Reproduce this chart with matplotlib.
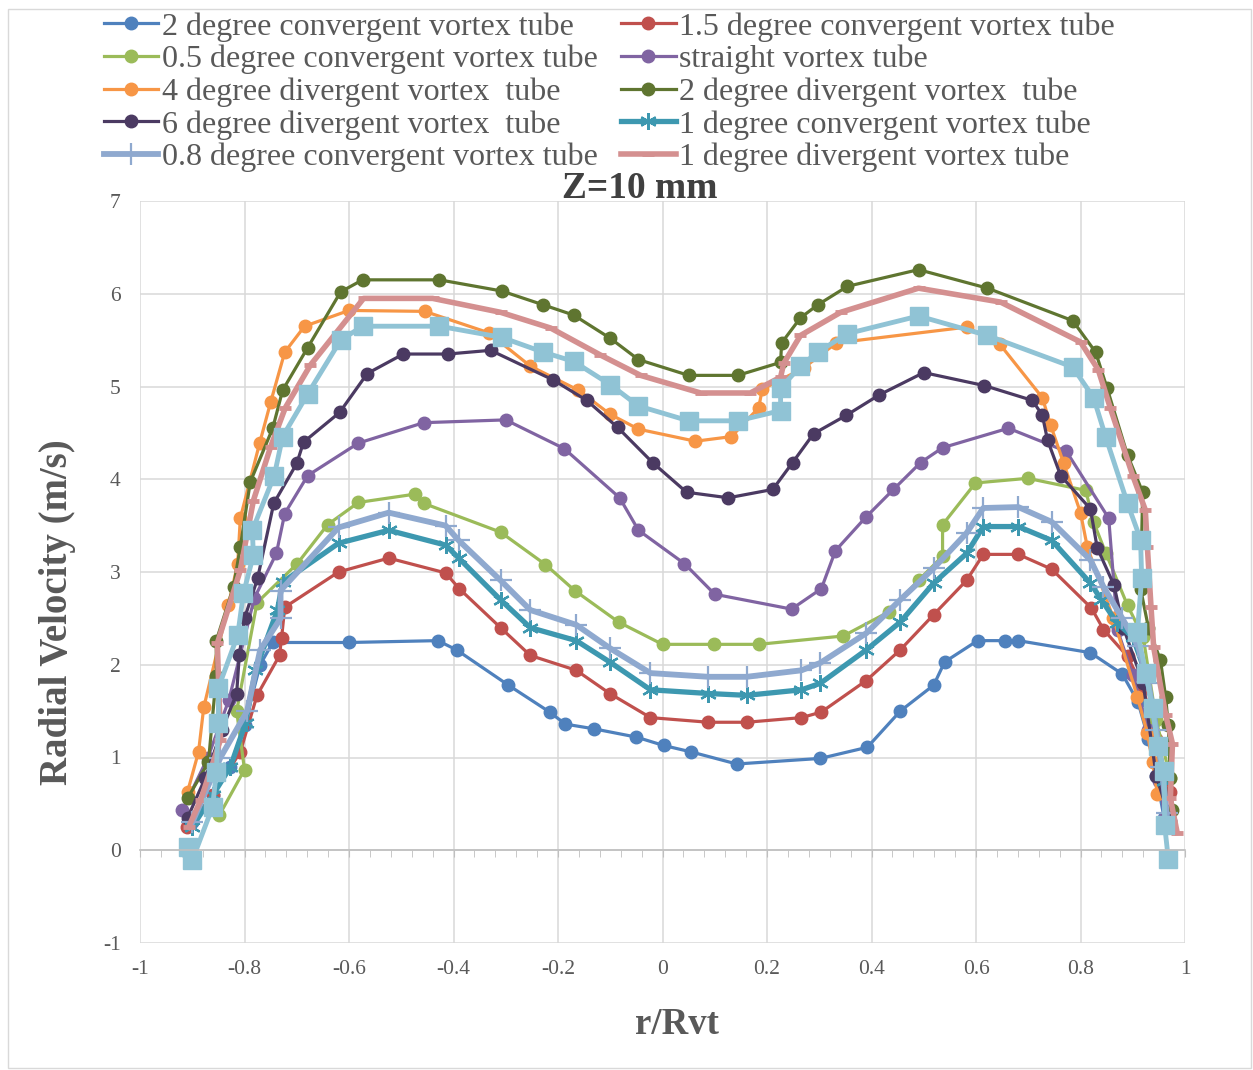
import matplotlib
matplotlib.use('Agg')
import matplotlib.pyplot as plt
from matplotlib.patches import Rectangle
from matplotlib.ticker import MultipleLocator

plt.rcParams['font.family'] = ['Liberation Serif', 'DejaVu Serif']

# ---- data (r/Rvt, radial velocity m/s) ----
x_2conv = [-0.9, -0.86, -0.827, -0.8, -0.77, -0.746, -0.6, -0.43, -0.394, -0.295, -0.216, -0.186, -0.132, -0.05,
           0.002, 0.055, 0.142, 0.302, 0.392, 0.455, 0.519, 0.54, 0.603, 0.655, 0.681, 0.819, 0.88, 0.91, 0.93,
           0.945, 0.96]
y_2conv = [0.3, 0.6, 0.9, 1.35, 2.0, 2.24, 2.24, 2.26, 2.16, 1.78, 1.49, 1.36, 1.31, 1.22,
           1.13, 1.06, 0.93, 0.99, 1.11, 1.5, 1.78, 2.03, 2.26, 2.26, 2.26, 2.13, 1.9, 1.6, 1.2,
           0.8, 0.35]

x_15conv = [-0.91, -0.86, -0.808, -0.776, -0.733, -0.729, -0.723, -0.62, -0.524, -0.415, -0.389, -0.31, -0.253,
            -0.165, -0.101, -0.023, 0.088, 0.161, 0.266, 0.304, 0.39, 0.455, 0.519, 0.582, 0.614, 0.681, 0.745,
            0.821, 0.844, 0.89, 0.92, 0.945, 0.972]
y_15conv = [0.25, 0.6, 1.06, 1.67, 2.1, 2.29, 2.62, 3.0, 3.15, 2.99, 2.82, 2.4, 2.1,
            1.94, 1.69, 1.43, 1.38, 1.38, 1.43, 1.49, 1.83, 2.16, 2.54, 2.91, 3.19, 3.19, 3.03,
            2.61, 2.38, 2.09, 1.75, 1.2, 0.63]

x_05conv = [-0.848, -0.8, -0.815, -0.776, -0.699, -0.641, -0.582, -0.473, -0.457, -0.31, -0.224, -0.168, -0.084,
            0.0, 0.098, 0.184, 0.346, 0.433, 0.49, 0.536, 0.536, 0.599, 0.699, 0.81, 0.825, 0.848, 0.89, 0.92,
            0.945, 0.972]
y_05conv = [0.38, 0.87, 1.5, 2.67, 3.09, 3.51, 3.75, 3.84, 3.74, 3.43, 3.08, 2.8, 2.46,
            2.22, 2.22, 2.22, 2.31, 2.57, 2.91, 3.17, 3.51, 3.96, 4.01, 3.88, 3.54, 3.21, 2.64, 2.3,
            1.4, 0.78]

x_straight = [-0.919, -0.87, -0.83, -0.781, -0.739, -0.723, -0.679, -0.582, -0.457, -0.3, -0.188, -0.082, -0.046,
              0.042, 0.1, 0.247, 0.304, 0.331, 0.389, 0.442, 0.494, 0.536, 0.662, 0.773, 0.854, 0.871, 0.9,
              0.93, 0.95, 0.962]
y_straight = [0.43, 1.0, 1.62, 2.72, 3.2, 3.63, 4.04, 4.39, 4.61, 4.64, 4.33, 3.8, 3.45,
              3.09, 2.76, 2.6, 2.82, 3.23, 3.59, 3.89, 4.18, 4.34, 4.55, 4.3, 3.58, 2.37, 1.89,
              1.3, 0.75, 0.35]

x_4div = [-0.909, -0.888, -0.878, -0.831, -0.813, -0.808, -0.771, -0.75, -0.723, -0.685, -0.6, -0.455, -0.333,
          -0.253, -0.161, -0.1, -0.046, 0.063, 0.132, 0.184, 0.191, 0.270, 0.333, 0.582, 0.645, 0.727, 0.743,
          0.768, 0.8, 0.813, 0.863, 0.909, 0.928, 0.938, 0.947]
y_4div = [0.63, 1.06, 1.54, 2.64, 3.09, 3.58, 4.39, 4.83, 5.37, 5.65, 5.82, 5.81, 5.58,
          5.22, 4.96, 4.7, 4.54, 4.41, 4.46, 4.77, 4.97, 5.2, 5.47, 5.64, 5.46, 4.88, 4.58,
          4.17, 3.64, 3.27, 2.5, 1.65, 1.26, 0.95, 0.61]

x_2div = [-0.909, -0.869, -0.854, -0.854, -0.821, -0.808, -0.789, -0.746, -0.727, -0.679, -0.616, -0.574, -0.427,
          -0.308, -0.228, -0.17, -0.1, -0.046, 0.05, 0.144, 0.226, 0.228, 0.264, 0.297, 0.354, 0.49, 0.622,
          0.785, 0.829, 0.851, 0.89, 0.919, 0.915, 0.93, 0.953, 0.963, 0.968, 0.972, 0.976]
y_2div = [0.56, 0.95, 1.88, 2.26, 2.84, 3.27, 3.97, 4.55, 4.96, 5.42, 6.02, 6.15, 6.15,
          6.03, 5.88, 5.77, 5.52, 5.29, 5.12, 5.12, 5.26, 5.47, 5.74, 5.88, 6.08, 6.26, 6.06,
          5.71, 5.37, 4.98, 4.26, 3.86, 2.82, 2.4, 2.05, 1.65, 1.35, 0.78, 0.43]

x_6div = [-0.909, -0.875, -0.843, -0.815, -0.81, -0.8, -0.775, -0.744, -0.7, -0.687, -0.618, -0.565, -0.496,
          -0.411, -0.329, -0.209, -0.145, -0.086, -0.019, 0.046, 0.126, 0.211, 0.249, 0.289, 0.352, 0.415, 0.5,
          0.616, 0.708, 0.727, 0.737, 0.762, 0.819, 0.832, 0.864, 0.882, 0.92, 0.945, 0.972]
y_6div = [0.35, 0.78, 1.3, 1.69, 2.1, 2.5, 2.93, 3.74, 4.17, 4.4, 4.72, 5.14, 5.35,
          5.35, 5.39, 5.07, 4.85, 4.56, 4.18, 3.86, 3.8, 3.89, 4.18, 4.49, 4.69, 4.91, 5.15,
          5.01, 4.85, 4.69, 4.42, 4.04, 3.68, 3.26, 2.86, 2.4, 1.8, 0.8, 0.32]

x_1conv = [-0.9, -0.86, -0.827, -0.798, -0.779, -0.737, -0.727, -0.62, -0.524, -0.415, -0.39, -0.31, -0.253,
           -0.165, -0.101, -0.023, 0.088, 0.161, 0.266, 0.302, 0.39, 0.455, 0.519, 0.582, 0.614, 0.681, 0.745,
           0.819, 0.84, 0.87, 0.9, 0.925, 0.94, 0.95, 0.96, 0.965]
y_1conv = [0.25, 0.6, 0.9, 1.37, 1.94, 2.59, 2.89, 3.31, 3.45, 3.29, 3.15, 2.7, 2.4,
           2.26, 2.03, 1.73, 1.69, 1.67, 1.73, 1.8, 2.16, 2.46, 2.88, 3.2, 3.49, 3.49, 3.34,
           2.88, 2.7, 2.45, 2.3, 1.9, 1.5, 1.1, 0.75, 0.3]

x_08conv = [-0.9, -0.846, -0.795, -0.77, -0.731, -0.731, -0.62, -0.524, -0.415, -0.39, -0.31, -0.253, -0.165,
            -0.101, -0.023, 0.088, 0.161, 0.266, 0.302, 0.39, 0.455, 0.519, 0.582, 0.614, 0.681, 0.745, 0.819,
            0.844, 0.88, 0.91, 0.93, 0.945, 0.955, 0.965]
y_08conv = [0.3, 1.0, 1.5, 2.16, 2.5, 2.8, 3.48, 3.64, 3.5, 3.34, 2.91, 2.59, 2.43,
            2.18, 1.91, 1.87, 1.87, 1.94, 2.02, 2.34, 2.7, 3.04, 3.42, 3.69, 3.7, 3.54, 3.13,
            2.84, 2.5, 2.2, 1.8, 1.3, 0.9, 0.4]

x_1div = [-0.907, -0.884, -0.846, -0.852, -0.808, -0.783, -0.75, -0.722, -0.674, -0.572, -0.44, -0.31, -0.214,
          -0.119, -0.042, 0.073, 0.168, 0.226, 0.232, 0.264, 0.341, 0.49, 0.647, 0.8, 0.834, 0.857, 0.9,
          0.924, 0.928, 0.935, 0.94, 0.963, 0.976, 0.972, 0.985]
y_1div = [0.25, 0.54, 1.19, 2.23, 3.02, 3.77, 4.35, 4.77, 5.23, 5.95, 5.95, 5.8, 5.63,
          5.34, 5.12, 4.93, 4.93, 5.1, 5.25, 5.55, 5.8, 6.06, 5.91, 5.48, 5.18, 4.77, 4.04,
          3.67, 3.27, 2.62, 2.19, 1.46, 1.15, 0.56, 0.19]

x_sq = [-0.909, -0.9, -0.861, -0.854, -0.85, -0.85, -0.813, -0.802, -0.783, -0.785, -0.743, -0.727, -0.679,
        -0.616, -0.574, -0.427, -0.308, -0.228, -0.17, -0.1, -0.046, 0.05, 0.144, 0.226, 0.226, 0.264, 0.297,
        0.354, 0.49, 0.622, 0.785, 0.825, 0.848, 0.89, 0.915, 0.917, 0.909, 0.925, 0.938, 0.948, 0.96, 0.961,
        0.968]
y_sq = [0.04, -0.11, 0.47, 0.84, 1.37, 1.75, 2.32, 2.77, 3.18, 3.45, 4.04, 4.46, 4.92,
        5.5, 5.65, 5.65, 5.53, 5.37, 5.27, 5.02, 4.79, 4.63, 4.63, 4.74, 4.98, 5.22, 5.37,
        5.57, 5.76, 5.55, 5.21, 4.88, 4.46, 3.74, 3.35, 2.94, 2.35, 1.91, 1.53, 1.12, 0.85, 0.27,
        -0.09]

labels = ['2 degree convergent vortex tube', '1.5 degree convergent vortex tube',
          '0.5 degree convergent vortex tube', 'straight vortex tube',
          '4 degree divergent vortex  tube', '2 degree divergent vortex  tube',
          '6 degree divergent vortex  tube', '1 degree convergent vortex tube',
          '0.8 degree convergent vortex tube', '1 degree divergent vortex tube']

xticks = [-1, -0.8, -0.6, -0.4, -0.2, 0, 0.2, 0.4, 0.6, 0.8, 1]
xticklabels = ['-1', '-0.8', '-0.6', '-0.4', '-0.2', '0', '0.2', '0.4', '0.6', '0.8', '1']

fig = plt.figure(figsize=(12.53, 10.7), dpi=100)
ax = fig.add_axes([140/1253, 1-943/1070, 1045/1253, 742/1070])

circ = dict(marker='o', markersize=9, lw=2.3)
h = []
h += ax.plot(x_2conv, y_2conv, color='#4F81BD', **circ)
h += ax.plot(x_15conv, y_15conv, color='#C0504D', **circ)
h += ax.plot(x_05conv, y_05conv, color='#9BBB59', **circ)
h += ax.plot(x_straight, y_straight, color='#8064A2', **circ)
h += ax.plot(x_4div, y_4div, color='#F79646', **circ)
h += ax.plot(x_2div, y_2div, color='#5F7530', **circ)
h += ax.plot(x_6div, y_6div, color='#4B3A62', **circ)
h += ax.plot(x_1conv, y_1conv, color='#3D98B0', lw=3.8, marker=(6, 2, 0), markersize=12, mew=1.6)
h += ax.plot(x_08conv, y_08conv, color='#8FA9CF', lw=4.2, marker='+', markersize=16, mew=1.6)
h += ax.plot(x_1div, y_1div, color='#D49090', lw=4.0, marker='_', markersize=9, mew=3.5)
ax.plot(x_sq, y_sq, color='#90C3D5', lw=3.5, marker='s', markersize=13)

ax.set_xlim(-1, 1)
ax.set_ylim(-1, 7)
ax.set_xticks(xticks)
ax.xaxis.set_minor_locator(MultipleLocator(0.04))
ax.yaxis.set_major_locator(MultipleLocator(1))
ax.grid(True, which='major', color='#D9D9D9', lw=1.1)
ax.set_axisbelow(True)
for s in ['top', 'right', 'left']:
    ax.spines[s].set_visible(False)
# horizontal axis line crosses at y = 0
ax.spines['bottom'].set_position(('data', 0))
ax.spines['bottom'].set_color('#BFBFBF')
ax.spines['bottom'].set_linewidth(1.2)
ax.tick_params(axis='x', which='both', length=5, color='#BFBFBF', labelbottom=False, direction='out')
ax.tick_params(axis='y', length=0, labelsize=15.5, labelcolor='#595959', pad=14)
ax.yaxis.set_major_formatter(plt.FuncFormatter(lambda v, p: '%g' % v))

# tick labels sit below the plot area, as in Excel's "low" label position
sec = ax.secondary_xaxis('bottom')
sec.set_xticks(xticks, xticklabels)
sec.spines['bottom'].set_visible(False)
sec.tick_params(length=0, labelsize=15.5, labelcolor='#595959', pad=12)

fig.text(640/1253, 1-188/1070, 'Z=10 mm', fontsize=27, fontweight='bold', color='#404040',
         ha='center', va='center')
fig.text(677/1253, 1-1025/1070, 'r/Rvt', fontsize=26.5, fontweight='bold', color='#595959',
         ha='center', va='center')
fig.text(58/1253, 1-612/1070, 'Radial Velocity (m/s)', fontsize=28, fontweight='bold', color='#595959',
         ha='center', va='center', rotation=90)

# Excel legend is filled row by row; matplotlib fills columns
order = [0, 2, 4, 6, 8, 1, 3, 5, 7, 9]
fig.legend([h[i] for i in order], [labels[i] for i in order], ncol=2, frameon=False,
           loc='upper left', bbox_to_anchor=(104/1253, 1-12/1070), fontsize=23,
           labelcolor='#595959', handlelength=1.7, handletextpad=0.1, labelspacing=0.1,
           columnspacing=0.75, borderpad=0, borderaxespad=0)

fig.patches.append(Rectangle((8/1253, 2/1070), 1-10/1253, 1-11/1070, transform=fig.transFigure,
                             fill=False, edgecolor='#D9D9D9', lw=1))

fig.savefig('out.png', dpi=100)
